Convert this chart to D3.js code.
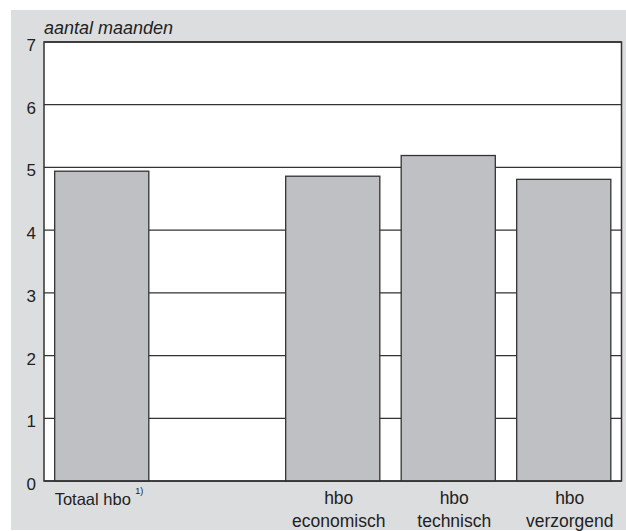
<!DOCTYPE html>
<html><head><meta charset="utf-8">
<script src="https://cdn.jsdelivr.net/npm/d3@7"></script>
<style>body{margin:0;background:#fff}svg{display:block}text{font-family:"Liberation Sans",Arial,sans-serif;fill:#222}</style>
</head><body>
<script>
const categories = ["Totaal hbo", "", "hbo economisch", "hbo technisch", "hbo verzorgend"];
const labelLines = [["Totaal hbo"], [], ["hbo", "economisch"], ["hbo", "technisch"], ["hbo", "verzorgend"]];
const values = [4.94, null, 4.86, 5.19, 4.81];
const yTicks = [0, 1, 2, 3, 4, 5, 6, 7];
const yTitle = "aantal maanden";

(function () {
const W = 626, H = 531;
const svg = d3.select("body").append("svg").attr("width", W).attr("height", H);
svg.append("rect").attr("x", 11).attr("y", 10).attr("width", W - 11).attr("height", 520).attr("fill", "#dcdddf");

const pL = 44, pR = 621.5, pT = 42, pB = 481;
svg.append("rect").attr("x", pL).attr("y", pT).attr("width", pR - pL).attr("height", pB - pT).attr("fill", "#fff");

const x = d3.scaleBand().domain(categories.map((c, i) => i)).range([pL, pR]).paddingInner(0.185).paddingOuter(0.0925);
const y = d3.scaleLinear().domain([0, 7]).range([pB, pT]);

svg.append("g").selectAll("line").data(yTicks).join("line")
  .attr("x1", pL).attr("x2", pR).attr("y1", d => y(d)).attr("y2", d => y(d))
  .attr("stroke", "#333").attr("stroke-width", 1.3);

svg.append("g").selectAll("rect").data(values.map((v, i) => ({v, i})).filter(d => d.v != null)).join("rect")
  .attr("x", d => x(d.i)).attr("width", x.bandwidth())
  .attr("y", d => y(d.v)).attr("height", d => y(0) - y(d.v))
  .attr("fill", "#bfc0c4").attr("stroke", "#333").attr("stroke-width", 1.3);

svg.append("rect").attr("x", pL).attr("y", pT).attr("width", pR - pL).attr("height", pB - pT)
  .attr("fill", "none").attr("stroke", "#333").attr("stroke-width", 1.5);

svg.append("g").selectAll("text").data(yTicks).join("text")
  .attr("x", 36).attr("y", d => y(d) + 9).attr("text-anchor", "end")
  .attr("font-size", 17).text(d => d);

svg.append("text").attr("x", 44).attr("y", 34).attr("font-size", 18).attr("font-style", "italic").text(yTitle);

labelLines.forEach((lines, i) => {
  if (!lines.length) return;
  if (i === 0) {
    svg.append("text").attr("x", x(i)).attr("y", 505).attr("font-size", 16.5).text(lines[0]);
    svg.append("text").attr("x", x(i) + 80.5).attr("y", 494).attr("font-size", 9).text("1)");
  } else {
    lines.forEach((l, j) => {
      svg.append("text").attr("x", x(i) + x.bandwidth() / 2 + 6).attr("y", 504 + j * 22.5)
        .attr("text-anchor", "middle").attr("font-size", 17.5).text(l);
    });
  }
});
})();
</script>
</body></html>
